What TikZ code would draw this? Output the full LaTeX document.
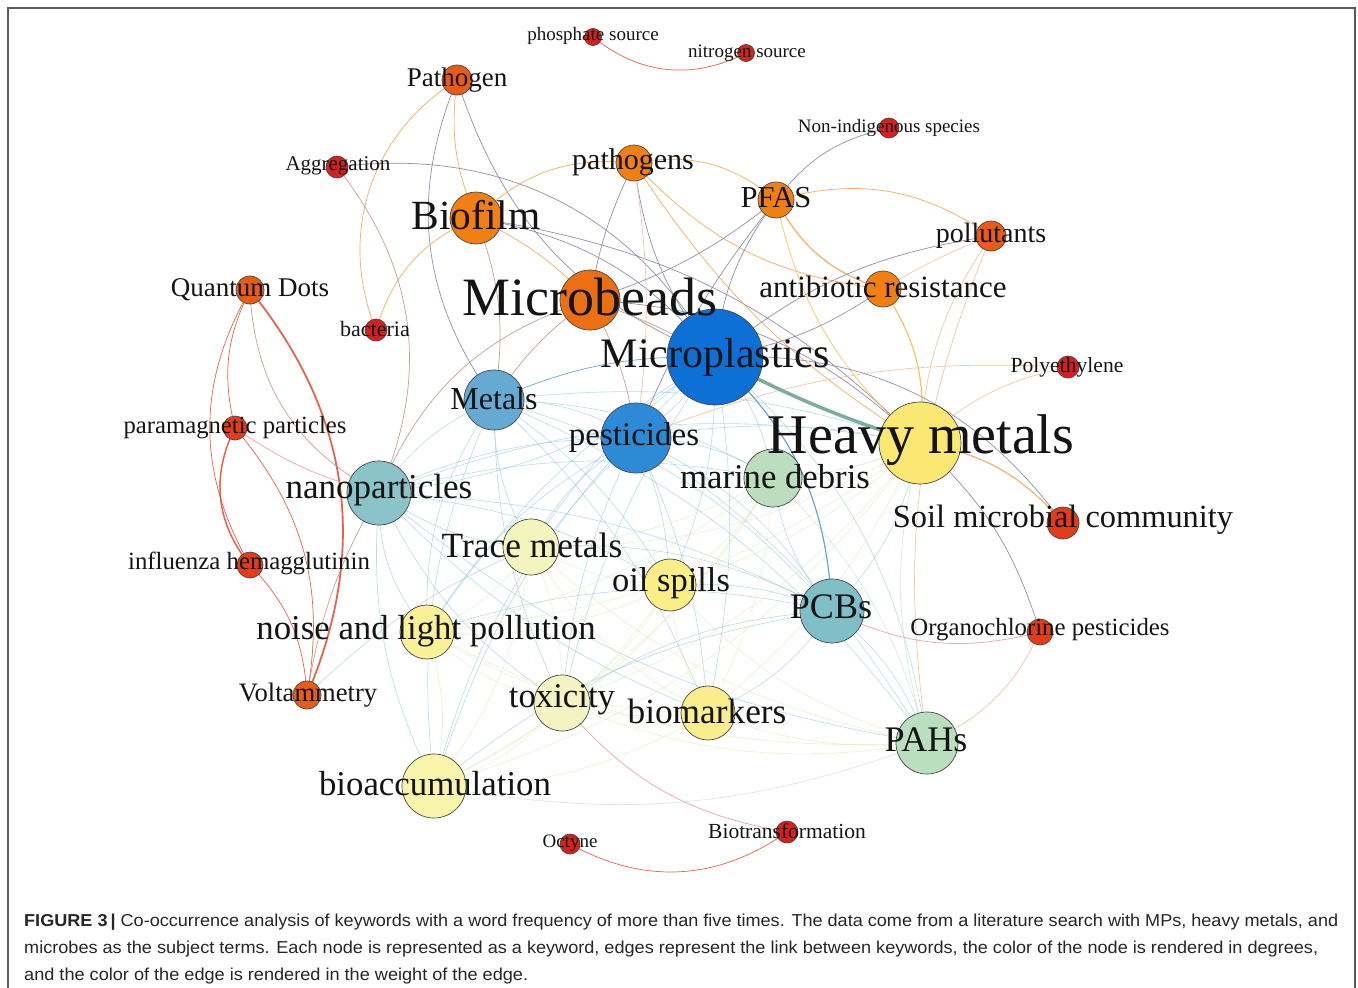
\documentclass[tikz,border=0pt]{standalone}
\usepackage{fontspec}
\usepackage{graphicx}
\setmainfont{Liberation Serif}
\newfontfamily\capfont{Liberation Sans}
\newcommand\fsz[1]{\fontsize{#1}{#1}\selectfont}
\newcommand\E[4]{\draw[#1,#4] (#2.center) to (#3.center);}
\pgfdeclarelayer{bg}
\pgfdeclarelayer{edges}
\pgfsetlayers{bg,edges,main}
\definecolor{cRed}{RGB}{214,32,32}
\definecolor{cRedOr}{RGB}{228,60,24}
\definecolor{cOrRed}{RGB}{233,92,22}
\definecolor{cOrange}{RGB}{241,128,16}
\definecolor{cOrange2}{RGB}{236,112,18}
\definecolor{cMP}{RGB}{12,112,215}
\definecolor{cPest}{RGB}{45,138,215}
\definecolor{cMetals}{RGB}{100,170,210}
\definecolor{cNano}{RGB}{138,196,200}
\definecolor{cPCB}{RGB}{128,190,200}
\definecolor{cMdeb}{RGB}{188,222,190}
\definecolor{cPAH}{RGB}{185,222,192}
\definecolor{cHM}{RGB}{250,232,115}
\definecolor{cOil}{RGB}{250,238,135}
\definecolor{cBiom}{RGB}{250,238,140}
\definecolor{cNoise}{RGB}{250,240,150}
\definecolor{cTrace}{RGB}{243,245,190}
\definecolor{cTox}{RGB}{242,245,195}
\definecolor{cBioacc}{RGB}{248,244,170}
\definecolor{ecyan}{RGB}{150,200,218}
\definecolor{eyel}{RGB}{224,234,186}
\definecolor{egreen}{RGB}{188,220,200}
\definecolor{egray}{RGB}{125,125,160}
\definecolor{eorange}{RGB}{240,160,70}
\definecolor{elorange}{RGB}{240,190,150}
\definecolor{eyor}{RGB}{242,188,60}
\definecolor{ered}{RGB}{226,72,46}
\definecolor{elred}{RGB}{230,150,150}
\definecolor{ebrown}{RGB}{185,145,130}
\definecolor{eblue}{RGB}{80,150,205}
\definecolor{eteal}{RGB}{110,165,150}
\definecolor{frame}{RGB}{90,90,90}
\tikzset{
  nd/.style={circle, draw=black!72, line width=0.7pt, inner sep=0pt},
  lbl/.style={inner sep=0pt, text=black!92},
  ebase/.style={line width=0.7pt, opacity=0.85},
  elight/.style={line width=0.6pt, opacity=0.65},
  ec/.style={elight, draw=ecyan},
  ey/.style={elight, draw=eyel},
  eg/.style={elight, draw=egreen},
  egr/.style={ebase, draw=egray},
  eor/.style={ebase, draw=eorange},
  elo/.style={ebase, draw=elorange},
  eyo/.style={ebase, draw=eyor},
  erd/.style={ebase, draw=ered},
  elr/.style={ebase, draw=elred},
  ebr/.style={ebase, draw=ebrown},
  ebl/.style={ebase, draw=eblue},
}
\begin{document}
\begin{tikzpicture}[x=1pt,y=-1pt]
\useasboundingbox (0,0) rectangle (1358,988);
\begin{pgfonlayer}{bg}
\fill[white] (0,0) rectangle (1358,988);
\end{pgfonlayer}
\draw[frame, line width=1.3pt] (8,990) -- (8,8) -- (1355,8) -- (1355,990);

% ---------- nodes ----------
\node[nd, minimum size=17pt, fill=cRed] (phos) at (593,37) {};
\node[nd, minimum size=17pt, fill=cRed] (nitro) at (746,53) {};
\node[nd, minimum size=30pt, fill=cOrRed] (pathogen) at (457,80) {};
\node[nd, minimum size=22pt, fill=cRed] (aggr) at (337,167) {};
\node[nd, minimum size=20pt, fill=cRed] (nonind) at (889,128) {};
\node[nd, minimum size=36pt, fill=cOrange] (pathogens) at (634,163) {};
\node[nd, minimum size=36pt, fill=cOrange] (pfas) at (776,200) {};
\node[nd, minimum size=30pt, fill=cOrRed] (pollut) at (991,236) {};
\node[nd, minimum size=52pt, fill=cOrange] (biofilm) at (476,218) {};
\node[nd, minimum size=28pt, fill=cOrRed] (qd) at (250,290) {};
\node[nd, minimum size=22pt, fill=cRed] (bact) at (376,330) {};
\node[nd, minimum size=60pt, fill=cOrange2] (mbeads) at (590,300) {};
\node[nd, minimum size=36pt, fill=cOrange] (antib) at (883,289) {};
\node[nd, minimum size=96pt, fill=cMP] (mp) at (715,357) {};
\node[nd, minimum size=22pt, fill=cRed] (polyeth) at (1068,367) {};
\node[nd, minimum size=60pt, fill=cMetals] (metals) at (494,400) {};
\node[nd, minimum size=24pt, fill=cRedOr] (param) at (235,428) {};
\node[nd, minimum size=70pt, fill=cPest] (pest) at (636,438) {};
\node[nd, minimum size=82pt, fill=cHM] (hm) at (920,443) {};
\node[nd, minimum size=58pt, fill=cMdeb] (mdeb) at (773,478) {};
\node[nd, minimum size=64pt, fill=cNano] (nano) at (379,493) {};
\node[nd, minimum size=32pt, fill=cRedOr] (soil) at (1063,523) {};
\node[nd, minimum size=56pt, fill=cTrace] (trace) at (531,547) {};
\node[nd, minimum size=26pt, fill=cRedOr] (influ) at (250,565) {};
\node[nd, minimum size=52pt, fill=cOil] (oil) at (670,585) {};
\node[nd, minimum size=64pt, fill=cPCB] (pcb) at (832,611) {};
\node[nd, minimum size=54pt, fill=cNoise] (noise) at (427,632) {};
\node[nd, minimum size=26pt, fill=cRedOr] (organo) at (1040,632) {};
\node[nd, minimum size=28pt, fill=cOrRed] (volt) at (307,695) {};
\node[nd, minimum size=56pt, fill=cTox] (tox) at (562,703) {};
\node[nd, minimum size=54pt, fill=cBiom] (biom) at (708,713) {};
\node[nd, minimum size=62pt, fill=cPAH] (pah) at (927,743) {};
\node[nd, minimum size=64pt, fill=cBioacc] (bioacc) at (434,786) {};
\node[nd, minimum size=22pt, fill=cRed] (biotr) at (787,832) {};
\node[nd, minimum size=20pt, fill=cRed] (octyne) at (570,844) {};

% ---------- edges ----------
\begin{pgfonlayer}{edges}
\foreach \a/\b/\k in {metals/pest/15, metals/hm/12, metals/mdeb/14, metals/nano/-15, metals/trace/-15, metals/oil/12, metals/pcb/16, metals/noise/-18, metals/tox/-12, metals/biom/12, metals/pah/15, metals/bioacc/-15,
 pest/hm/10, pest/mdeb/15, pest/nano/-12, pest/trace/-15, pest/oil/10, pest/pcb/15, pest/noise/-15, pest/tox/-10, pest/biom/10, pest/pah/12, pest/bioacc/-15,
 nano/hm/15, nano/mdeb/12, nano/trace/-15, nano/oil/12, nano/pcb/12, nano/noise/-20, nano/tox/-15, nano/biom/-12, nano/pah/-15, nano/bioacc/-15,
 pcb/hm/-15, pcb/mdeb/15, pcb/trace/-15, pcb/oil/-12, pcb/noise/-15, pcb/tox/-15, pcb/biom/15, pcb/pah/15, pcb/bioacc/-15,
 mp/pest/10, mp/mdeb/15, mp/nano/15, mp/trace/-10, mp/oil/12, mp/tox/-10, mp/biom/10, mp/pah/20, mp/bioacc/-15, mp/noise/-12}
  \draw[ec, bend left=\k] (\a.center) to (\b.center);
\foreach \a/\b/\k in {hm/trace/15, hm/oil/12, hm/noise/15, hm/tox/15, hm/biom/12, hm/bioacc/18,
 trace/oil/-12, trace/noise/15, trace/tox/12, trace/biom/-15, trace/pah/-15, trace/bioacc/15, trace/mdeb/-12,
 oil/noise/15, oil/tox/12, oil/biom/-12, oil/pah/-15, oil/bioacc/15, oil/mdeb/-12,
 noise/tox/-15, noise/biom/-15, noise/pah/-15, noise/bioacc/15, noise/mdeb/-12,
 tox/biom/-10, tox/pah/-15, tox/bioacc/15, tox/mdeb/-12,
 biom/pah/-12, biom/bioacc/15, biom/mdeb/-12, mdeb/bioacc/15}
  \draw[ey, bend left=\k] (\a.center) to (\b.center);
\foreach \a/\b/\k in {hm/pah/-15, hm/mdeb/10, pah/bioacc/15, pah/mdeb/-15}
  \draw[eg, bend left=\k] (\a.center) to (\b.center);

% left cluster
\E{erd}{qd}{influ}{bend right=30}
\E{erd}{qd}{param}{bend right=20}
\E{erd}{param}{volt}{bend left=25}
\E{erd}{influ}{volt}{bend left=20}
\E{erd, line width=1.5pt}{param}{influ}{bend right=33}
\E{erd, line width=1.8pt}{qd}{volt}{bend left=31}
\E{ebr}{qd}{nano}{bend right=30}
\E{ebr}{volt}{nano}{bend left=10}
\E{elr}{param}{nano}{bend right=10}
\E{ec}{volt}{trace}{bend left=10}

% top periphery
\E{erd}{phos}{nitro}{bend right=33}
\E{erd}{octyne}{biotr}{bend right=32}
\E{elr}{tox}{biotr}{bend right=20}
\E{eor}{bact}{pathogen}{bend left=40}
\E{eor}{pathogen}{biofilm}{bend right=15}
\E{egr}{pathogen}{metals}{bend right=29}
\E{egr}{pathogen}{mp}{bend right=25}
\E{egr}{aggr}{mp}{bend left=34}
\E{ebr}{aggr}{nano}{bend left=31}
\E{eor}{biofilm}{pathogens}{bend left=25}
\E{eor}{bact}{biofilm}{bend left=25}
\E{egr}{biofilm}{mp}{bend left=20}
\E{eor}{biofilm}{mbeads}{bend left=10}
\E{ebr}{biofilm}{metals}{bend left=15}
\E{egr}{biofilm}{hm}{bend left=18}
\E{egr}{pathogens}{mp}{bend right=15}
\E{egr}{pathogens}{mbeads}{bend right=8}
\E{elo}{pathogens}{pest}{bend left=8}
\E{eor}{pathogens}{antib}{bend right=20}
\E{eor}{pathogens}{pfas}{bend left=25}
\E{eor}{pathogens}{hm}{bend right=12}
\E{egr}{pfas}{nonind}{bend left=20}
\E{egr}{pfas}{mp}{bend right=15}
\E{egr}{pfas}{pest}{bend right=8}
\E{egr}{pfas}{mbeads}{bend left=10}
\E{eor}{pfas}{pollut}{bend left=25}
\E{eor, line width=1.2pt}{pfas}{antib}{bend right=22}
\E{eyo}{pfas}{hm}{bend right=18}
\E{eyo, line width=1.2pt}{antib}{hm}{bend left=20}
\E{egr}{antib}{mp}{bend left=12}
\E{elo}{antib}{pollut}{bend left=5}
\E{egr}{mp}{pollut}{bend left=15}
\E{elo}{pollut}{hm}{bend right=15}
\E{elo}{pollut}{pah}{bend right=15}
\E{elo}{pest}{polyeth}{bend left=12}
\E{elo}{polyeth}{hm}{bend right=15}
\E{egr}{mp}{soil}{bend left=28}
\E{eor, line width=1.1pt}{hm}{soil}{bend left=20}
\E{elr}{pcb}{organo}{bend right=20}
\E{elo}{organo}{pah}{bend left=20}
\E{egr}{hm}{organo}{bend left=15}
\E{ebr}{mbeads}{mp}{bend left=5}
\E{ebr}{mbeads}{metals}{bend right=10}
\E{ebr}{mbeads}{nano}{bend right=25}
\E{egr}{mbeads}{hm}{bend left=20}
\E{ebr}{mbeads}{pest}{bend left=10}
\E{ebl}{metals}{mp}{bend left=12}
\E{ebl, line width=1.2pt}{mp}{pcb}{bend left=22}
\draw[draw=eteal, line width=3.5pt, opacity=0.9, bend right=5] (mp.center) to (hm.center);
\end{pgfonlayer}

% ---------- labels ----------
\node[lbl, font=\fsz{19}] (phosL) at (593,36) {phosphate source};
\node[lbl, font=\fsz{19}] (nitroL) at (747,53) {nitrogen source};
\node[lbl, font=\fsz{27}] (pathogenL) at (457,80) {Pathogen};
\node[lbl, font=\fsz{21}] (aggrL) at (338,166) {Aggregation};
\node[lbl, font=\fsz{19}] (nonindL) at (889,128) {Non-indigenous species};
\node[lbl, font=\fsz{30}] (pathogensL) at (633,162) {pathogens};
\node[lbl, font=\fsz{30.5}] (pfasL) at (776,198) {PFAS};
\node[lbl, font=\fsz{28}] (pollutL) at (991,236) {pollutants};
\node[lbl, font=\fsz{41.5}] (biofilmL) at (476,215) {Biofilm};
\node[lbl, font=\fsz{27}] (qdL) at (250,290) {Quantum Dots};
\node[lbl, font=\fsz{22}] (bactL) at (375,329) {bacteria};
\node[lbl, font=\fsz{54}] (mbeadsL) at (590,297) {Microbeads};
\node[lbl, font=\fsz{31}] (antibL) at (883,287) {antibiotic resistance};
\node[lbl, font=\fsz{42}] (mpL) at (715,357) {Microplastics};
\node[lbl, font=\fsz{21.6}] (polyethL) at (1067,367) {Polyethylene};
\node[lbl, font=\fsz{32}] (metalsL) at (494,399) {Metals};
\node[lbl, font=\fsz{24.7}] (paramL) at (235,428) {paramagnetic particles};
\node[lbl, font=\fsz{33}] (pestL) at (634,438) {pesticides};
\node[lbl, font=\fsz{56}] (hmL) at (921,440) {Heavy metals};
\node[lbl, font=\fsz{34.7}] (mdebL) at (775,477) {marine debris};
\node[lbl, font=\fsz{35}] (nanoL) at (379,490) {nanoparticles};
\node[lbl, font=\fsz{32.4}] (soilL) at (1063,520) {Soil microbial community};
\node[lbl, font=\fsz{35.4}] (traceL) at (532,545) {Trace metals};
\node[lbl, font=\fsz{24.8}] (influL) at (249,563) {influenza hemagglutinin};
\node[lbl, font=\fsz{34.5}] (oilL) at (671,583) {oil spills};
\node[lbl, font=\fsz{36}] (pcbL) at (831,607) {PCBs};
\node[lbl, font=\fsz{34.8}] (noiseL) at (426,631) {noise and light pollution};
\node[lbl, font=\fsz{24.8}] (organoL) at (1040,630) {Organochlorine pesticides};
\node[lbl, font=\fsz{26.6}] (voltL) at (308,695) {Voltammetry};
\node[lbl, font=\fsz{34.7}] (toxL) at (562,700) {toxicity};
\node[lbl, font=\fsz{35.3}] (biomL) at (707,711) {biomarkers};
\node[lbl, font=\fsz{36}] (pahL) at (926,740) {PAHs};
\node[lbl, font=\fsz{34.8}] (bioaccL) at (435,784) {bioaccumulation};
\node[lbl, font=\fsz{21.5}] (biotrL) at (787,831) {Biotransformation};
\node[lbl, font=\fsz{19}] (octyneL) at (570,843) {Octyne};

% ---------- caption ----------
\node[anchor=base west, inner sep=0pt, text=black!85] (cap1) at (24,926)
  {\resizebox{1314pt}{12.5pt}{\capfont\textbf{FIGURE 3}\,\smash{\textbf{|}} Co-occurrence analysis of keywords with a word frequency of more than five times. The data come from a literature search with MPs, heavy metals, and}};
\node[anchor=base west, inner sep=0pt, text=black!85] (cap2) at (24,953)
  {\resizebox{1294pt}{12.5pt}{\capfont microbes as the subject terms. Each node is represented as a keyword, edges represent the link between keywords, the color of the node is rendered in degrees,}};
\node[anchor=base west, inner sep=0pt, text=black!85] (cap3) at (24,980)
  {\resizebox{504pt}{12.5pt}{\capfont and the color of the edge is rendered in the weight of the edge.}};
\end{tikzpicture}
\end{document}
